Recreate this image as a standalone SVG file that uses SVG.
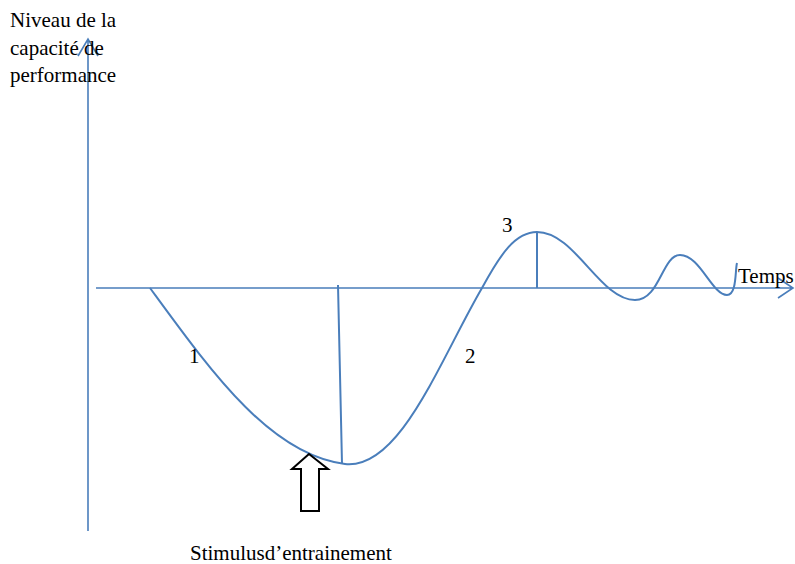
<svg xmlns="http://www.w3.org/2000/svg" width="795" height="564" viewBox="0 0 795 564">
<style>
.ax{stroke:#4a7ebb;stroke-width:1.6;fill:none}
.cv{stroke:#4a7ebb;stroke-width:2;fill:none}
.t{font-family:"Liberation Serif","Times New Roman",serif;font-size:21px;fill:#000}
</style>
<rect width="795" height="564" fill="#fff"/>
<g id="connectors">
<path class="ax" d="M88,531 V39 M78,56 L88,39 L98,56"/>
<path class="ax" d="M96,288 H793 M778,278 L793,288 L778,298"/>
<path class="cv" d="M150,288 C210,370 270,455 345,464 C400,470 440,360 482,288 C500,255 515,232 537,232 C575,232 600,300 635,300 C660,300 662,255 680,255 C700,255 712,295 727,295 C737,295 735,270 737,263"/>
<path class="cv" d="M338,285 L342,464 M537,232 V288"/>
</g>
<g id="stimulus-arrow">
<path d="M309,454 L292,469 L301,469 L301,511 L319,511 L319,469 L328,469 Z" fill="#fff" stroke="#000" stroke-width="2"/>
</g>
<g id="labels">
<text class="t" x="10" y="27">Niveau de la</text>
<text class="t" x="10" y="54.5">capacité de</text>
<text class="t" x="10" y="82">performance</text>
<text class="t" x="738" y="283">Temps</text>
<text class="t" x="189" y="363">1</text>
<text class="t" x="465" y="363">2</text>
<text class="t" x="502" y="232">3</text>
<text class="t" x="190" y="560">Stimulusd’entrainement</text>
</g>
</svg>
